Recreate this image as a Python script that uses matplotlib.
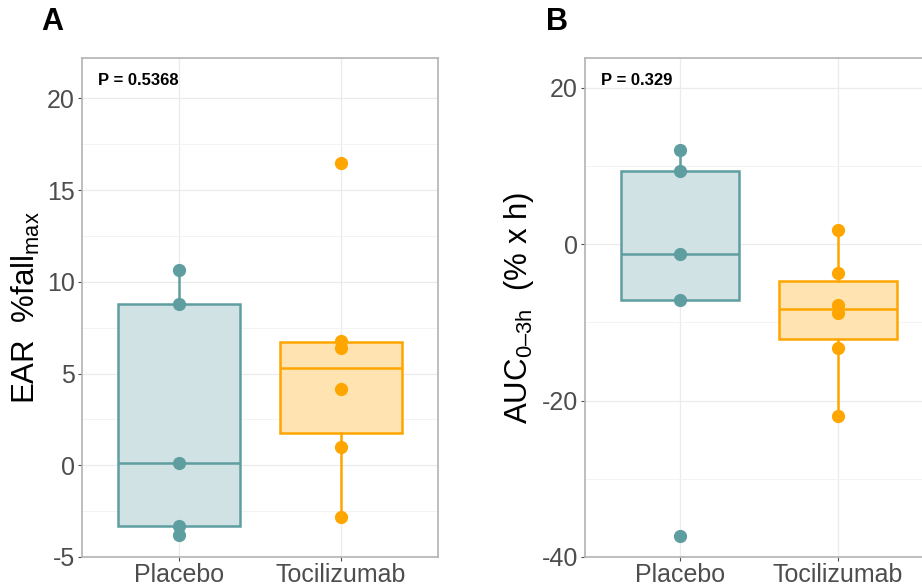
import matplotlib
matplotlib.use("Agg")
import matplotlib.pyplot as plt
from matplotlib.ticker import MultipleLocator

plt.rcParams["font.family"] = ["Liberation Sans", "DejaVu Sans"]
plt.rcParams["mathtext.fontset"] = "custom"
plt.rcParams["mathtext.rm"] = "Liberation Sans"
plt.rcParams["mathtext.it"] = "Liberation Sans"
plt.rcParams["axes.unicode_minus"] = False

# --------- DATA ---------
groups = ["Placebo", "Tocilizumab"]

ear_placebo = [10.65, 8.8, 0.15, -3.3, -3.78]
ear_toci = [16.5, 6.8, 6.4, 4.15, 0.98, -2.8]

auc_placebo = [12.1, 9.3, -1.3, -7.2, -37.3]
auc_toci = [1.8, -3.7, -7.8, -8.8, -13.3, -22.0]

p_ear = "P = 0.5368"
p_auc = "P = 0.329"
# ------------------------

EDGE = ["#5F9EA0", "#FFA500"]
FILL = ["#D0E2E3", "#FFE4B2"]


def draw_panel(ax, data, ylim, major, minor, ylabel, ptext):
    for i, vals in enumerate(data):
        pos = i + 1
        bp = ax.boxplot(
            [vals], positions=[pos], widths=0.75, patch_artist=True,
            showfliers=False, showcaps=False, whis=1.5,
        )
        for b in bp["boxes"]:
            b.set_facecolor(FILL[i])
            b.set_edgecolor(EDGE[i])
            b.set_linewidth(1.8)
        for key in ("whiskers", "medians"):
            for ln in bp[key]:
                ln.set_color(EDGE[i])
                ln.set_linewidth(1.8)
        ax.plot([pos] * len(vals), vals, "o", color=EDGE[i],
                markersize=8.5, zorder=4)

    ax.set_xlim(0.4, 2.6)
    ax.set_ylim(*ylim)
    ax.set_xticks([1, 2])
    ax.set_xticklabels(groups)
    ax.yaxis.set_major_locator(MultipleLocator(major))
    ax.yaxis.set_minor_locator(MultipleLocator(minor))
    ax.grid(True, which="major", color="#ebebeb", linewidth=0.9)
    ax.grid(True, which="minor", axis="y", color="#f3f3f3", linewidth=0.7)
    ax.set_axisbelow(True)
    for s in ax.spines.values():
        s.set_color("#b3b3b3")
        s.set_linewidth(1.2)
    ax.tick_params(axis="both", which="major", labelsize=18, colors="#4d4d4d",
                   length=3, width=0.8, pad=2)
    ax.tick_params(axis="y", which="minor", length=0)
    ax.tick_params(axis="x", pad=1)
    for lab in ax.get_xticklabels() + ax.get_yticklabels():
        lab.set_color("#4d4d4d")
    ax.set_ylabel(ylabel, fontsize=22.5, color="black", labelpad=4)
    ax.text(0.045, 0.955, ptext, transform=ax.transAxes, fontsize=12,
            fontweight="bold", va="center", ha="left")


fig = plt.figure(figsize=(9.22, 5.87), dpi=100)
W, H = 922, 587

ax1 = fig.add_axes([82 / W, (H - 557) / H, 356 / W, 499 / H])
ax2 = fig.add_axes([585 / W, (H - 557) / H, 348 / W, 499 / H])

draw_panel(ax1, [ear_placebo, ear_toci], (-5, 22.2), 5, 2.5,
           r"EAR  %fall$_{\mathrm{max}}$", p_ear)
draw_panel(ax2, [auc_placebo, auc_toci], (-40, 23.8), 20, 10,
           "AUC$_{\\mathrm{0\u20133h}}$  (% x h)", p_auc)

fig.text(41 / W, 1 - 22 / H, "A", fontsize=22, fontweight="bold",
         va="center", ha="left")
fig.text(546 / W, 1 - 22 / H, "B", fontsize=22, fontweight="bold",
         va="center", ha="left")

fig.savefig("out.png", dpi=100)
